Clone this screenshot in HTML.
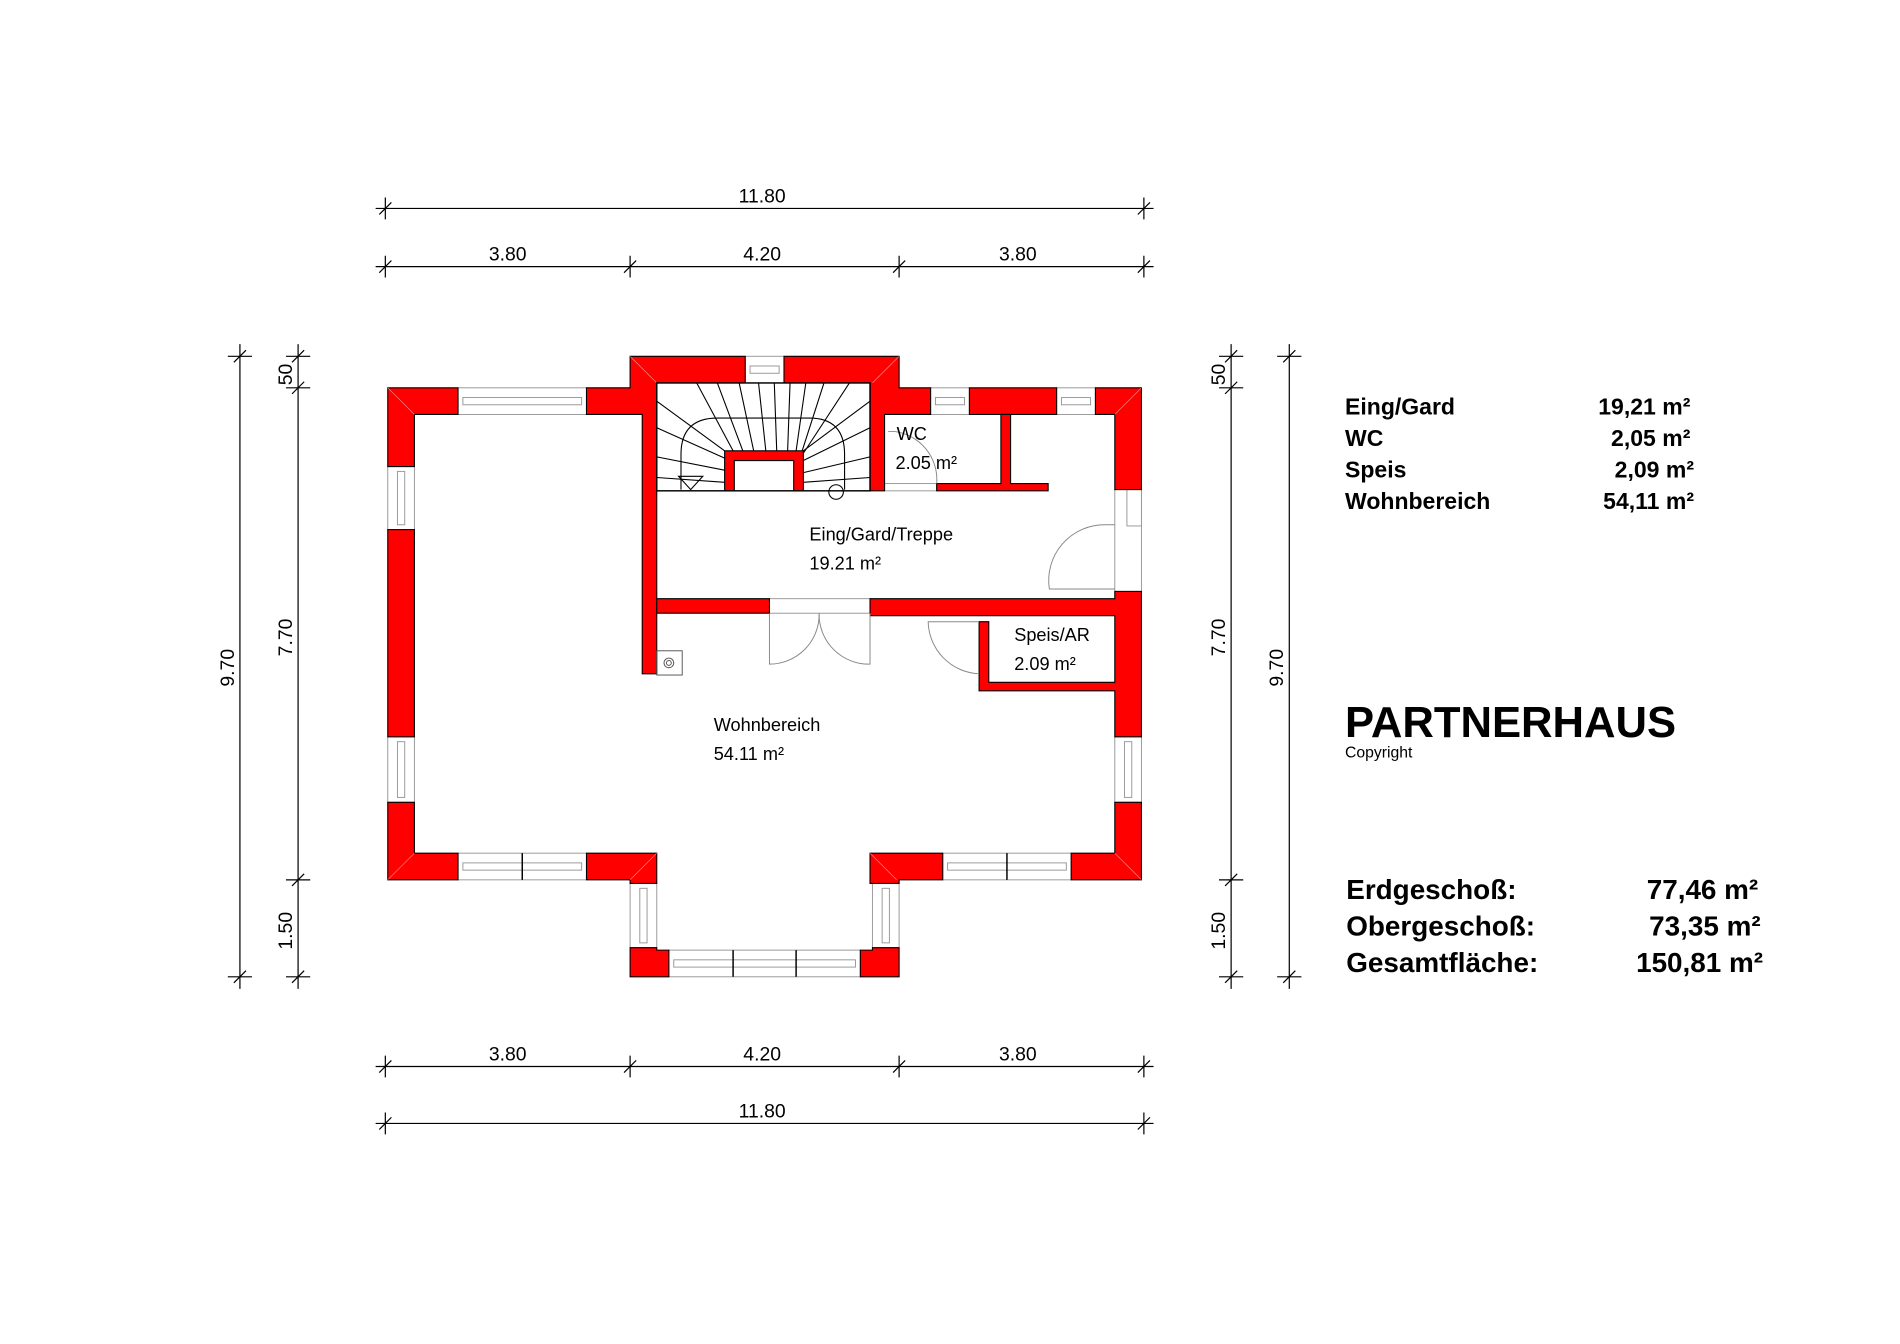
<!DOCTYPE html>
<html><head><meta charset="utf-8"><style>
html,body{margin:0;padding:0;background:#fff;}
svg{display:block;}
text{font-family:"Liberation Sans",sans-serif;}
</style></head><body>
<svg width="1900" height="1344" viewBox="0 0 1568 1109" preserveAspectRatio="none" xmlns="http://www.w3.org/2000/svg">
<rect width="1568" height="1109" fill="#fff"/>
<g stroke="#000" stroke-width="1" fill="none">
<line x1="310" y1="172" x2="952" y2="172"/>
<line x1="310" y1="220" x2="952" y2="220"/>
<line x1="310" y1="880" x2="952" y2="880"/>
<line x1="310" y1="927" x2="952" y2="927"/>
<path d="M318 163v18M313 177l10-10"/><path d="M944 163v18M939 177l10-10"/>
<path d="M318 211v18M313 225l10-10M520 211v18M515 225l10-10M742 211v18M737 225l10-10M944 211v18M939 225l10-10"/>
<path d="M318 871v18M313 885l10-10M520 871v18M515 885l10-10M742 871v18M737 885l10-10M944 871v18M939 885l10-10"/>
<path d="M318 918v18M313 932l10-10M944 918v18M939 932l10-10"/>
<line x1="198" y1="284" x2="198" y2="816"/>
<line x1="246" y1="284" x2="246" y2="816"/>
<line x1="1016" y1="284" x2="1016" y2="816"/>
<line x1="1064" y1="284" x2="1064" y2="816"/>
<path d="M188 294h20M193 299l10-10M188 806h20M193 811l10-10"/>
<path d="M236 294h20M241 299l10-10M236 320h20M241 325l10-10M236 726h20M241 731l10-10M236 806h20M241 811l10-10"/>
<path d="M1006 294h20M1011 299l10-10M1006 320h20M1011 325l10-10M1006 726h20M1011 731l10-10M1006 806h20M1011 811l10-10"/>
<path d="M1054 294h20M1059 299l10-10M1054 806h20M1059 811l10-10"/>
</g>
<g font-size="16" fill="#000" text-anchor="middle">
<text x="629" y="167">11.80</text>
<text x="419" y="215">3.80</text><text x="629" y="215">4.20</text><text x="840" y="215">3.80</text>
<text x="419" y="875">3.80</text><text x="629" y="875">4.20</text><text x="840" y="875">3.80</text>
<text x="629" y="922">11.80</text>
<text transform="translate(193,551) rotate(-90)">9.70</text>
<text transform="translate(241,526) rotate(-90)">7.70</text>
<text transform="translate(241,309) rotate(-90)">50</text>
<text transform="translate(241,768) rotate(-90)">1.50</text>
<text transform="translate(1011,526) rotate(-90)">7.70</text>
<text transform="translate(1011,309) rotate(-90)">50</text>
<text transform="translate(1011,768) rotate(-90)">1.50</text>
<text transform="translate(1059,551) rotate(-90)">9.70</text>
</g>
<g fill="#fff" stroke="#999" stroke-width="0.8">
<rect x="378" y="320" width="106" height="22"/><rect x="382" y="328" width="98" height="6"/>
<rect x="615" y="294" width="32" height="22"/><rect x="619" y="302" width="24" height="6"/>
<rect x="768" y="320" width="32" height="22"/><rect x="772" y="328" width="24" height="6"/>
<rect x="872" y="320" width="32" height="22"/><rect x="876" y="328" width="24" height="6"/>
<rect x="320" y="385" width="22" height="52"/><rect x="328" y="389" width="6" height="44"/>
<rect x="320" y="608" width="22" height="54"/><rect x="328" y="612" width="6" height="46"/>
<rect x="920" y="608" width="22" height="54"/><rect x="928" y="612" width="6" height="46"/>
<rect x="920" y="404" width="22" height="84"/><rect x="930" y="404" width="12" height="30"/>
<rect x="378" y="704" width="106" height="22"/><rect x="382" y="712" width="98" height="6"/>
<rect x="778" y="704" width="106" height="22"/><rect x="782" y="712" width="98" height="6"/>
<rect x="520" y="729" width="22" height="53"/><rect x="528" y="733" width="6" height="45"/>
<rect x="720" y="729" width="22" height="53"/><rect x="728" y="733" width="6" height="45"/>
<rect x="552" y="784" width="158" height="22"/><rect x="556" y="792" width="150" height="6"/>
<rect x="635" y="494" width="83" height="12"/>
<rect x="730" y="399" width="43" height="6"/>
</g>
<g stroke="#000" stroke-width="1.2"><path d="M431 704v22M831 704v22M605 784v22M657 784v22"/></g>
<g fill="#f00" stroke="#000" stroke-width="0.9">
<path d="M320 320H378V342H342V385H320Z"/>
<path d="M484 320H520V294H615V316H542V556H530V342H484Z"/>
<path d="M647 294H742V320H768V342H730V405H718V316H647Z"/>
<rect x="800" y="320" width="72" height="22"/>
<path d="M904 320H942V404H920V342H904Z"/>
<path d="M826 342H834V399H865V405H773V399H826Z"/>
<rect x="320" y="437" width="22" height="171"/>
<path d="M320 662H342V704H378V726H320Z"/>
<path d="M484 704H542V729H520V726H484Z"/>
<path d="M718 704H778V726H742V729H718Z"/>
<path d="M884 704H920V662H942V726H884Z"/>
<path d="M920 488H942V608H920V570H808V513H816V563H920V508H718V494H920Z"/>
<path d="M542 494H635V506H542Z"/>
<path d="M520 782H542V784H552V806H520Z"/>
<path d="M710 784H720V782H742V806H710Z"/>
<path d="M598 372H663V405H655V380H606V405H598Z"/>
</g>
<g stroke="#fff" stroke-width="0.5" opacity="0.6"><path d="M320 320l22 22M942 320l-22 22M520 294l22 22M742 294l-22 22M320 726l22-22M942 726l-22-22M542 704l-22 22M718 704l22 22"/></g>
<g stroke="#000" stroke-width="0.9" fill="none">
<rect x="542" y="316" width="176" height="89" stroke-width="1.2"/>
<path d="M562 404V375Q562 345 592 345H668Q697 345 697 375V404"/>
<path d="M575 316L605 372M592 316L613 372M610 316L622 372M626 316L632 372M639 316L641 372M652 316L650 372M665 316L657 372M680 316L662 372M701 316L663 374"/>
<path d="M542 331L598 372M542 353L598 378M542 377L598 388M542 394L598 398M718 331L663 372M718 353L663 380M718 377L663 390M718 394L663 398"/>
<path d="M560 393L580 393L570 404Z"/>
<circle cx="690" cy="406" r="6"/>
</g>
<g stroke="#888" stroke-width="0.8" fill="none">
<path d="M635 506V548A41 41 0 0 0 676 506"/>
<path d="M718 506V548A41 41 0 0 1 676 506"/>
<path d="M808 513H766A44 44 0 0 0 808 556"/>
<path d="M920 433H912A46 46 0 0 0 866 486H920"/>
<path d="M733 356H738A40 40 0 0 1 773 399"/>
<rect x="542" y="537" width="21" height="20" stroke="#555"/>
<circle cx="552" cy="547" r="4" stroke="#555"/><circle cx="552" cy="547" r="2" stroke="#555"/>
</g>
<g font-size="15" fill="#000">
<text x="740" y="363">WC</text><text x="739" y="387">2.05 m²</text>
<text x="668" y="446">Eing/Gard/Treppe</text><text x="668" y="470">19.21 m²</text>
<text x="837" y="529">Speis/AR</text><text x="837" y="553">2.09 m²</text>
<text x="589" y="603">Wohnbereich</text><text x="589" y="627">54.11 m²</text>
</g>
<g font-size="19" font-weight="bold" fill="#000">
<text x="1110" y="342">Eing/Gard</text><text x="1395" y="342" text-anchor="end">19,21 m²</text>
<text x="1110" y="368">WC</text><text x="1395" y="368" text-anchor="end">2,05 m²</text>
<text x="1110" y="394">Speis</text><text x="1398" y="394" text-anchor="end">2,09 m²</text>
<text x="1110" y="420">Wohnbereich</text><text x="1398" y="420" text-anchor="end">54,11 m²</text>
</g>
<text x="1110" y="608" font-size="36" font-weight="bold">PARTNERHAUS</text>
<text x="1110" y="625" font-size="13">Copyright</text>
<g font-size="23" font-weight="bold">
<text x="1111" y="742">Erdgeschoß:</text><text x="1451" y="742" text-anchor="end">77,46 m²</text>
<text x="1111" y="772">Obergeschoß:</text><text x="1453" y="772" text-anchor="end">73,35 m²</text>
<text x="1111" y="802">Gesamtfläche:</text><text x="1455" y="802" text-anchor="end">150,81 m²</text>
</g>
</svg>
</body></html>
